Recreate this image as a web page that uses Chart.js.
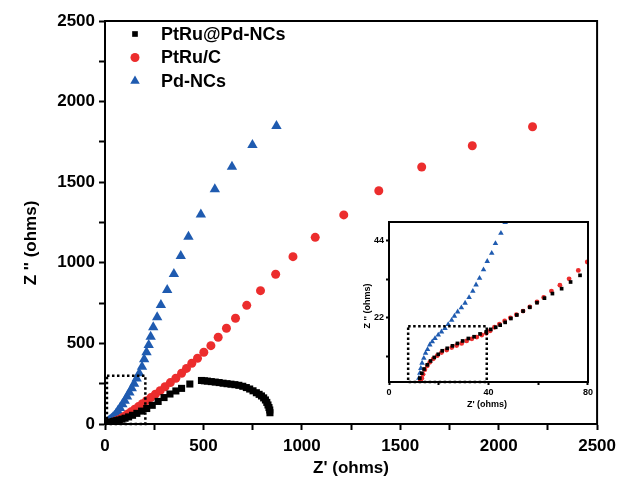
<!DOCTYPE html>
<html>
<head>
<meta charset="utf-8">
<script src="https://cdn.jsdelivr.net/npm/chart.js@4/dist/chart.umd.min.js"></script>
<style>
  html, body { margin: 0; padding: 0; background: #fff; }
  #wrap { position: relative; width: 622px; height: 486px; }
  #main { position: absolute; left: 0; top: 0; }
  #inset { position: absolute; left: 355px; top: 210px; }
</style>
</head>
<body>
<div id="wrap">
  <canvas id="main" width="622" height="486"></canvas>
  <canvas id="inset" width="240" height="205"></canvas>
</div>
<script>
// Nyquist plot: three catalysts, main view plus a zoomed inset of the origin.
const SERIES = ["PtRu@Pd-NCs", "PtRu/C", "Pd-NCs"];
const COLORS = ["#000000", "#ec2d2d", "#1f5bb0"];
const STYLES = ["rect", "circle", "triangle"];

// main plot (Z', Z'')
const BLACK_X = [12, 14, 17, 20, 24, 29, 35, 42, 50, 60, 72, 86, 102, 120, 140, 162, 186, 212, 240, 270, 300, 330, 360, 389, 431, 490, 505, 520, 540, 560, 580, 600, 620, 640, 660, 680, 700, 718, 735, 752, 769, 783, 795, 806, 815, 822, 828, 833, 837, 838];
const BLACK_Y = [0, 2, 4, 6, 8, 10, 12, 15, 18, 21, 25, 30, 36, 44, 54, 66, 80, 96, 116, 140, 164, 186, 205, 221, 248, 270, 268, 266, 263, 260, 257, 253, 250, 247, 244, 240, 234, 226, 217, 206, 194, 184, 174, 162, 149, 134, 118, 102, 87, 70];
const RED_X = [12, 14, 20, 28, 38, 48, 60, 72, 86, 100, 116, 133, 151, 170, 190, 211, 233, 256, 280, 305, 332, 360, 389, 414, 441, 470, 502, 538, 575, 617, 663, 720, 790, 867, 955, 1068, 1213, 1391, 1609, 1866, 2172];
const RED_Y = [0, 1, 3, 6, 10, 15, 21, 28, 38, 49, 62, 76, 92, 108, 126, 145, 164, 185, 207, 231, 257, 284, 315, 345, 377, 408, 445, 486, 538, 594, 656, 736, 827, 929, 1038, 1158, 1297, 1447, 1594, 1726, 1844];
const BLUE_X = [12, 13, 15, 18, 22, 27, 33, 40, 47, 55, 65, 76, 88, 100, 112, 124, 136, 148, 161, 174, 188, 199, 211, 222, 232, 245, 265, 284, 316, 350, 385, 424, 487, 558, 645, 749, 871];
const BLUE_Y = [5, 9, 13, 17, 21, 26, 32, 40, 49, 62, 80, 100, 122, 145, 170, 196, 222, 250, 283, 315, 355, 401, 445, 490, 542, 600, 662, 738, 831, 931, 1042, 1162, 1300, 1456, 1596, 1731, 1849];

// inset (high frequency part)
const IN_BLACK_X = [12.4, 13.2, 14.1, 15.4, 16.7, 18.2, 19.8, 21.4, 23.4, 25.5, 27.5, 29.6, 31.9, 34.2, 36.6, 39.1, 40.9, 42.9, 44.7, 46.7, 49.0, 51.4, 53.9, 56.6, 59.5, 62.5, 65.7, 69.4, 73.0, 76.8];
const IN_BLACK_Y = [4.8, 6.2, 7.4, 8.6, 9.7, 10.7, 11.6, 12.6, 13.3, 14.0, 14.7, 15.4, 16.1, 16.6, 17.4, 18.0, 18.7, 19.3, 19.9, 20.7, 21.8, 22.8, 23.9, 25.0, 26.3, 27.6, 28.9, 30.3, 32.2, 34.1];
const IN_RED_X = [12.7, 13.2, 13.7, 14.4, 15.4, 16.4, 17.8, 19.4, 21.1, 23.2, 25.2, 27.2, 29.2, 31.2, 33.3, 35.3, 37.3, 39.1, 40.7, 42.4, 44.4, 46.5, 48.8, 51.2, 53.9, 56.6, 59.5, 62.2, 65.3, 68.7, 72.4, 76.1, 79.7];
const IN_RED_Y = [4.2, 4.8, 5.9, 7.2, 8.3, 9.3, 10.3, 11.2, 12.1, 12.8, 13.5, 14.1, 14.7, 15.4, 16.0, 16.5, 17.1, 17.6, 18.3, 19.3, 20.2, 21.1, 22.0, 22.9, 23.9, 25.1, 26.5, 27.8, 29.6, 31.3, 33.1, 35.5, 37.9];
const IN_BLUE_X = [12.0, 12.4, 12.8, 13.3, 14.0, 14.7, 15.5, 16.4, 17.4, 18.5, 19.8, 21.1, 22.5, 23.8, 25.2, 26.3, 27.6, 29.1, 30.6, 32.2, 33.7, 35.0, 36.4, 38.0, 39.5, 41.3, 42.8, 45.0, 46.7];
const IN_BLUE_Y = [4.8, 6.2, 7.6, 9.1, 10.5, 11.9, 13.0, 14.3, 15.2, 16.1, 17.1, 18.0, 19.0, 20.1, 21.3, 22.5, 23.7, 24.9, 26.2, 27.8, 29.6, 31.4, 33.3, 35.7, 38.1, 40.4, 43.2, 46.1, 49.2];

// axes
const X_TICKS = [0, 250, 500, 750, 1000, 1250, 1500, 1750, 2000, 2250, 2500];
const Y_TICKS = X_TICKS;
const IN_X_TICKS = [0, 20, 40, 60, 80];
const IN_Y_TICKS = [11, 22, 33, 44];
const IN_Y_RANGE = [3.7, 49.3];
// dotted zoom boxes: [x0, x1, y0, y1]
const MAIN_BOX = [10, 205, 0, 300];
const IN_BOX = [7.7, 39.3, 3.7, 19.6];

const FONT = "'Liberation Sans', Arial, sans-serif";

function pts(xs, ys) {
  return xs.map((x, i) => ({ x, y: ys[i] }));
}

function dataset(i, xs, ys, r) {
  return {
    label: SERIES[i],
    data: pts(xs, ys),
    pointStyle: STYLES[i],
    pointRadius: r[i],
    pointHoverRadius: r[i],
    backgroundColor: COLORS[i],
    borderColor: COLORS[i],
    borderWidth: 0,
    showLine: false,
  };
}

function axis(opts) {
  return {
    type: "linear",
    min: opts.min, max: opts.max,
    afterBuildTicks: (s) => { s.ticks = opts.ticks.map((v) => ({ value: v })); },
    afterFit: opts.fit,
    ticks: {
      autoSkip: false, maxRotation: 0, color: "#000", padding: opts.pad,
      font: { family: FONT, size: opts.size, weight: "bold" },
      callback: (v) => (v % opts.every === 0 ? String(v) : ""),
    },
    grid: { drawOnChartArea: false, tickLength: opts.tick, tickColor: "#000", tickWidth: opts.lw },
    border: { color: "#000", width: opts.lw },
  };
}

// frame, dotted box and titles
function decor(box, lw, dot, titles) {
  return {
    id: "decor",
    afterDraw(chart) {
      const { ctx, chartArea: a, scales } = chart;
      ctx.save();
      ctx.strokeStyle = "#000";
      ctx.lineWidth = lw;
      ctx.strokeRect(a.left, a.top, a.right - a.left, a.bottom - a.top);

      const x0 = scales.x.getPixelForValue(box[0]);
      const x1 = scales.x.getPixelForValue(box[1]);
      const y0 = scales.y.getPixelForValue(box[2]);
      const y1 = scales.y.getPixelForValue(box[3]);
      ctx.setLineDash([dot, dot]);
      ctx.lineWidth = dot;
      ctx.strokeRect(x0, y1, x1 - x0, y0 - y1);
      ctx.setLineDash([]);

      ctx.fillStyle = "#000";
      ctx.font = `bold ${titles.size}px ${FONT}`;
      ctx.textAlign = "center";
      ctx.textBaseline = "middle";
      ctx.fillText("Z' (ohms)", titles.x[0], titles.x[1]);
      ctx.translate(titles.y[0], titles.y[1]);
      ctx.rotate(-Math.PI / 2);
      ctx.fillText("Z '' (ohms)", 0, 0);
      ctx.restore();
    },
  };
}

const legendPlugin = {
  id: "legendBox",
  afterDraw(chart) {
    const { ctx } = chart;
    ctx.save();
    chart.data.datasets.forEach((ds, i) => {
      const y = 34 + i * 23.5;
      ctx.fillStyle = ds.backgroundColor;
      Chart.helpers.drawPoint(ctx, { pointStyle: ds.pointStyle, radius: [4, 4.5, 5.5][i], rotation: 0, borderWidth: 0 }, 135, y);
      ctx.fillStyle = "#000";
      ctx.font = `bold 18px ${FONT}`;
      ctx.textBaseline = "middle";
      ctx.fillText(ds.label, 161, y + 1);
    });
    ctx.restore();
  },
};

new Chart(document.getElementById("main"), {
  type: "scatter",
  data: {
    datasets: [
      dataset(0, BLACK_X, BLACK_Y, [5, 4.5, 6]),
      dataset(1, RED_X, RED_Y, [5, 4.5, 6]),
      dataset(2, BLUE_X, BLUE_Y, [5, 4.5, 6]),
    ],
  },
  options: {
    responsive: false, animation: false, events: [],
    layout: { padding: { top: 21, right: 24, left: 0, bottom: 0 } },
    plugins: { legend: { display: false }, tooltip: { enabled: false } },
    scales: {
      x: axis({ min: 0, max: 2500, ticks: X_TICKS, every: 500, size: 17, pad: 6, tick: 6, lw: 2,
        fit: (s) => { s.height = 62; } }),
      y: axis({ min: 0, max: 2500, ticks: Y_TICKS, every: 500, size: 17, pad: 4, tick: 6, lw: 2,
        fit: (s) => { s.width = 105; } }),
    },
  },
  plugins: [decor(MAIN_BOX, 2, 2.5, { size: 17, x: [351, 468], y: [31, 243] }), legendPlugin],
});

new Chart(document.getElementById("inset"), {
  type: "scatter",
  data: {
    datasets: [
      dataset(0, IN_BLACK_X, IN_BLACK_Y, [2.6, 2.4, 3.2]),
      dataset(1, IN_RED_X, IN_RED_Y, [2.6, 2.4, 3.2]),
      dataset(2, IN_BLUE_X, IN_BLUE_Y, [2.6, 2.4, 3.2]),
    ],
  },
  options: {
    responsive: false, animation: false, events: [],
    layout: { padding: { top: 12, right: 7, left: 0, bottom: 0 } },
    plugins: { legend: { display: false }, tooltip: { enabled: false } },
    scales: {
      x: axis({ min: 0, max: 80, ticks: IN_X_TICKS, every: 40, size: 9, pad: 2, tick: 3, lw: 2,
        fit: (s) => { s.height = 33; } }),
      y: axis({ min: IN_Y_RANGE[0], max: IN_Y_RANGE[1], ticks: IN_Y_TICKS, every: 22, size: 9, pad: 2, tick: 3, lw: 2,
        fit: (s) => { s.width = 34; } }),
    },
  },
  plugins: [decor(IN_BOX, 2, 2.5, { size: 9, x: [132, 195], y: [13, 96] })],
});
</script>
</body>
</html>
